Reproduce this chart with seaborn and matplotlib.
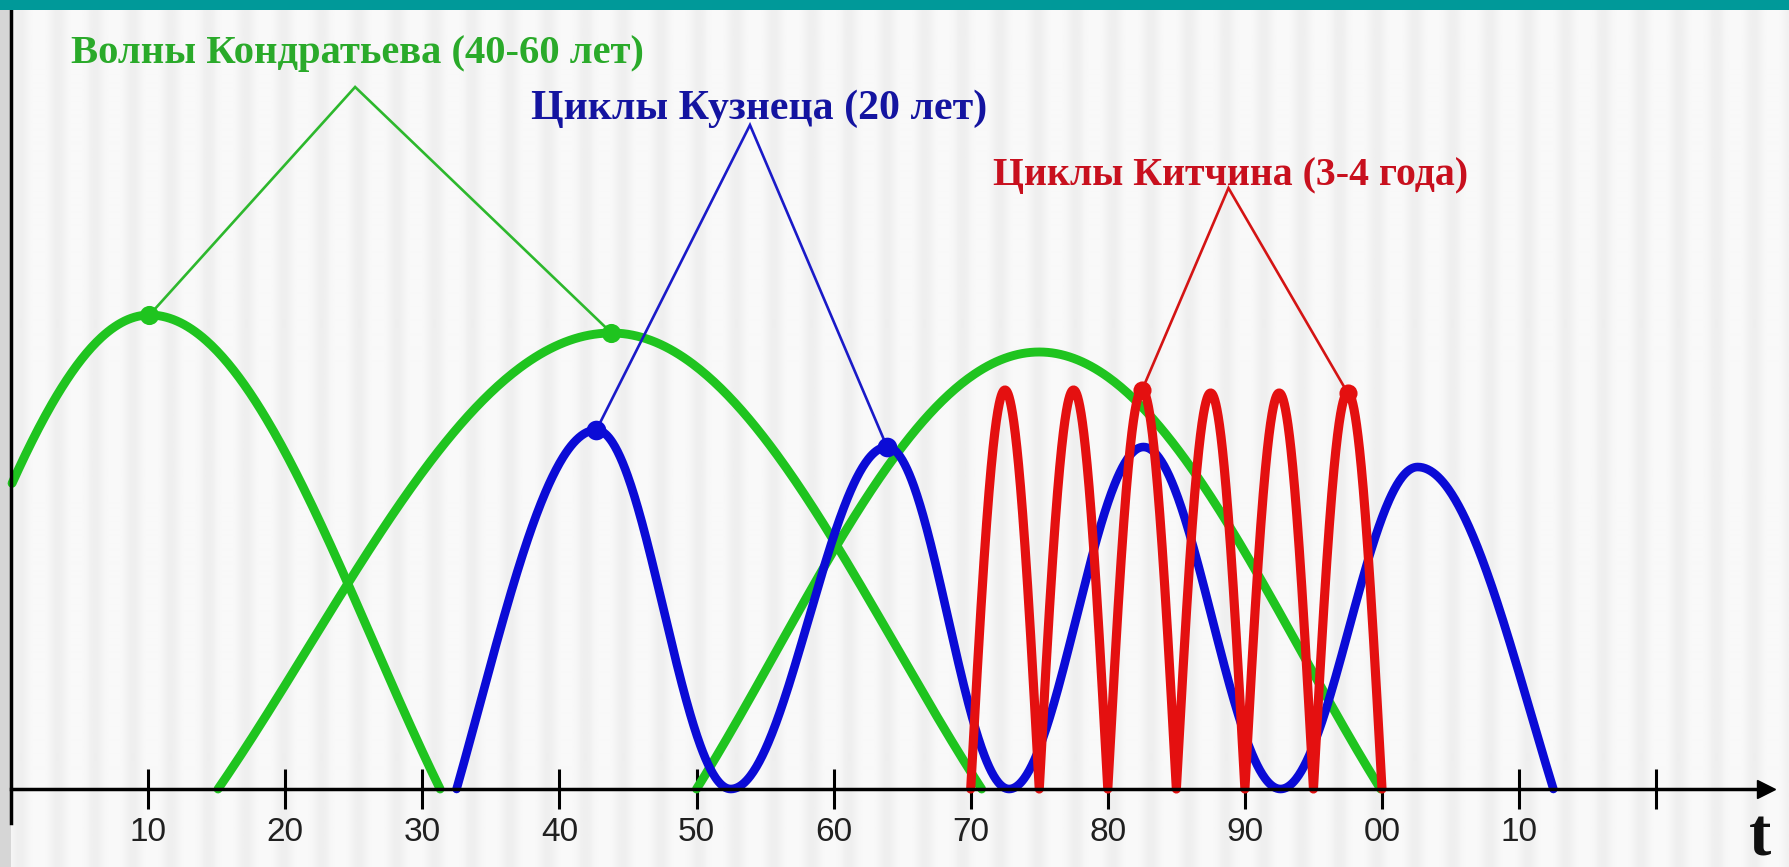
import numpy as np
import pandas as pd
import matplotlib
matplotlib.use("Agg")
import matplotlib.pyplot as plt
import seaborn as sns
from matplotlib.patches import Rectangle

# ---------------- data ----------------
tick_pos = [10, 20, 30, 40, 50, 60, 70, 80, 90, 100, 110, 120]
tick_labels = ["10", "20", "30", "40", "50", "60", "70", "80", "90", "00", "10", ""]

# Kondratiev waves: start, peak, end (years) and peak height
kond_start = [-9.1, 15.1, 50.0]
kond_peak = [10.1, 43.8, 75.0]
kond_end = [31.3, 70.8, 99.9]
kond_height = [4.74, 4.56, 4.37]

# Kuznets cycles: alternating troughs / peaks
kuz_x = [32.5, 42.7, 52.5, 63.9, 72.8, 82.6, 92.6, 102.6, 112.5]
kuz_y = [0.0, 3.59, 0.0, 3.42, 0.0, 3.42, 0.0, 3.22, 0.0]

# Kitchin cycles: alternating troughs / peaks
kit_x = [70, 72.5, 75, 77.5, 80, 82.5, 85, 87.5, 90, 92.5, 95, 97.5, 100]
kit_y = [0.0, 3.99, 0.0, 3.99, 0.0, 3.99, 0.0, 3.96, 0.0, 3.96, 0.0, 3.96, 0.0]

# callout marks and apexes
kond_mark_x = [10.1, 43.8]
kond_mark_y = [4.74, 4.56]
kond_apex = [25.1, 7.02]
kuz_mark_x = [42.7, 63.9]
kuz_mark_y = [3.59, 3.42]
kuz_apex = [53.9, 6.64]
kit_mark_x = [82.5, 97.5]
kit_mark_y = [3.99, 3.96]
kit_apex = [88.8, 6.01]

label_kond = "Волны Кондратьева (40-60 лет)"
label_kuz = "Циклы Кузнеца (20 лет)"
label_kit = "Циклы Китчина (3-4 года)"

# ---------------- styles ----------------
GREEN = "#1fc41f"
GREEN_T = "#2aaa2a"
BLUE = "#0b0bd6"
BLUE_T = "#1414a0"
RED = "#e41010"
RED_T = "#c8101e"
TEAL = "#009999"

W_PX, H_PX = 1789, 867
X0_PX, UNIT_PX = 11.0, 13.71
BASE_PX = 789.0
xl0 = -X0_PX / UNIT_PX
xl1 = (W_PX - X0_PX) / UNIT_PX
yl0 = (BASE_PX - H_PX) / 100.0
yl1 = BASE_PX / 100.0


def seg(x0, y0, x1, y1, theta, n=160):
    t = np.linspace(0, 1, n)
    x = x0 + (x1 - x0) * t
    h = max(y0, y1)
    s = t if y1 > y0 else 1 - t
    r = (np.cos(theta * (1 - s)) - np.cos(theta)) / (1 - np.cos(theta))
    return x, h * r


rows = []
for i, (s, p, e, h) in enumerate(zip(kond_start, kond_peak, kond_end, kond_height)):
    xa, ya = seg(s, 0, p, h, 0.65 * np.pi)
    xb, yb = seg(p, h, e, 0, 0.65 * np.pi)
    x = np.concatenate([xa, xb[1:]])
    y = np.concatenate([ya, yb[1:]])
    keep = x >= 0
    rows.append(pd.DataFrame({"x": x[keep], "y": y[keep], "arch": i}))
df_kond = pd.concat(rows)

xs, ys = [], []
for k in range(len(kuz_x) - 1):
    th = 0.6 * np.pi if k in (0, len(kuz_x) - 2) else np.pi
    xx, yy = seg(kuz_x[k], kuz_y[k], kuz_x[k + 1], kuz_y[k + 1], th)
    xs.append(xx if k == 0 else xx[1:])
    ys.append(yy if k == 0 else yy[1:])
df_kuz = pd.DataFrame({"x": np.concatenate(xs), "y": np.concatenate(ys)})

xs, ys = [], []
for k in range(len(kit_x) - 1):
    xx, yy = seg(kit_x[k], kit_y[k], kit_x[k + 1], kit_y[k + 1], 0.5 * np.pi)
    xs.append(xx if k == 0 else xx[1:])
    ys.append(yy if k == 0 else yy[1:])
df_kit = pd.DataFrame({"x": np.concatenate(xs), "y": np.concatenate(ys)})

# ---------------- figure ----------------
sns.set_theme(style="white")
fig = plt.figure(figsize=(W_PX / 100, H_PX / 100), dpi=100)
ax = fig.add_axes([0, 0, 1, 1])
ax.set_facecolor("white")

# subtle striped background texture
px = np.arange(W_PX)
g = 0.5 + 0.5 * np.cos(2 * np.pi * (px - 20) / 37.7)
col = 0.975 - 0.04 * g ** 2
ax.imshow(np.tile(col, (2, 1)), cmap="gray", vmin=0, vmax=1, aspect="auto",
          extent=[xl0, xl1, yl0, yl1], interpolation="bilinear", zorder=0)
ax.axvspan(xl0, 0, color="#d6d6d6", zorder=0.6, lw=0)

sns.lineplot(data=df_kond, x="x", y="y", units="arch", estimator=None, sort=False,
             color=GREEN, lw=6.4, ax=ax, zorder=3, legend=False)
sns.lineplot(data=df_kuz, x="x", y="y", estimator=None, sort=False,
             color=BLUE, lw=6.2, ax=ax, zorder=3.2, legend=False)
sns.lineplot(data=df_kit, x="x", y="y", estimator=None, sort=False,
             color=RED, lw=6.6, ax=ax, zorder=3.4, legend=False)

for mx, my, apex, c, lc, ms in [
    (kond_mark_x, kond_mark_y, kond_apex, GREEN, "#2db82d", 190),
    (kuz_mark_x, kuz_mark_y, kuz_apex, BLUE, "#1a1ac8", 200),
    (kit_mark_x, kit_mark_y, kit_apex, RED, "#d41414", 170),
]:
    ax.plot([mx[0], apex[0], mx[1]], [my[0], apex[1], my[1]], color=lc, lw=1.9,
            zorder=4, solid_joinstyle="miter")
    sns.scatterplot(x=mx, y=my, color=c, s=ms, linewidth=0, ax=ax, zorder=5, legend=False)

# axes
ax.set_xlim(xl0, xl1)
ax.set_ylim(yl0, yl1)
ax.grid(False)
for sp in ["top", "right"]:
    ax.spines[sp].set_visible(False)
ax.spines["left"].set_position(("data", 0))
ax.spines["bottom"].set_position(("data", 0))
ax.spines["left"].set_bounds(-0.34, yl1)
ax.spines["bottom"].set_bounds(0, 128.0)
for sp in ["left", "bottom"]:
    ax.spines[sp].set_color("black")
    ax.spines[sp].set_linewidth(2.5)
    ax.spines[sp].set_zorder(6)
ax.set_axisbelow(False)
ax.set_yticks([])
ax.set_xticks(tick_pos)
ax.set_xticklabels(tick_labels)
ax.tick_params(axis="x", direction="inout", length=29, width=2.2, pad=6,
               color="black", labelcolor="#202020", labelsize=24, bottom=True)
for lab in ax.get_xticklabels():
    lab.set_family(["Liberation Sans Narrow", "Liberation Sans", "DejaVu Sans"])
ax.set_xlabel("")
ax.set_ylabel("")

ax.plot([128.0], [0], marker=">", ms=13, color="black", clip_on=False, zorder=7)
ax.text(127.6, -0.66, "t", ha="center", va="baseline", fontsize=48, weight="bold",
        family=["Liberation Serif", "DejaVu Serif"], color="#101010")

serif = ["Liberation Serif", "DejaVu Serif"]
t1 = ax.text(4.4, 7.36, label_kond, color=GREEN_T, fontsize=24, weight="bold",
             family=serif, ha="left", va="center", zorder=8)
t2 = ax.text(37.9, 6.80, label_kuz, color=BLUE_T, fontsize=24, weight="bold",
             family=serif, ha="left", va="center", zorder=8)
t3 = ax.text(71.6, 6.13, label_kit, color=RED_T, fontsize=24, weight="bold",
             family=serif, ha="left", va="center", zorder=8)

fig.add_artist(Rectangle((0, 1 - 10 / H_PX), 1, 10 / H_PX, transform=fig.transFigure,
                         facecolor=TEAL, edgecolor="none", zorder=20))

fig.canvas.draw()
r = fig.canvas.get_renderer()
for t, target in [(t1, 574), (t2, 457), (t3, 477)]:
    bb = t.get_window_extent(r)
    t.set_fontsize(t.get_fontsize() * target / bb.width)

fig.savefig("out.png", dpi=100)
